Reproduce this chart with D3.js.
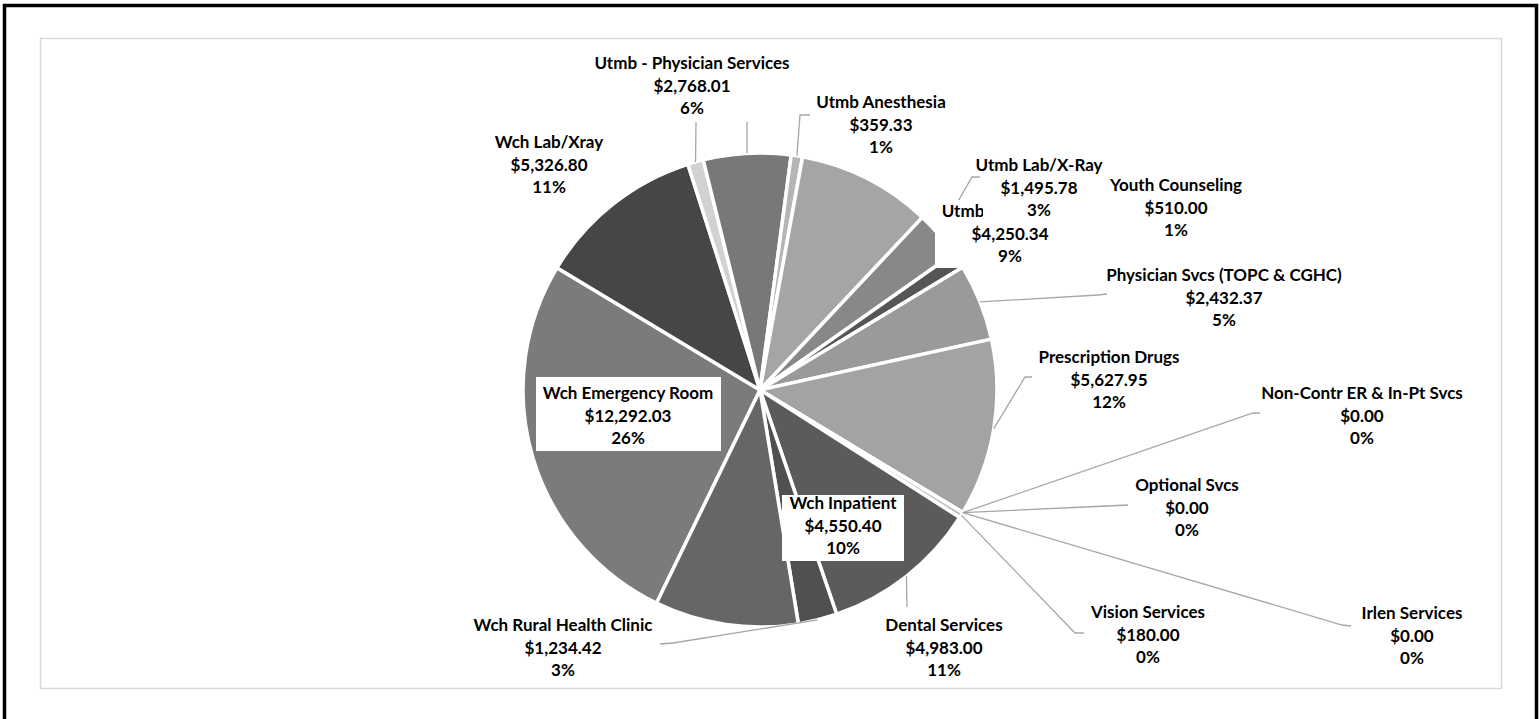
<!DOCTYPE html>
<html>
<head>
<meta charset="utf-8">
<script src="https://cdn.jsdelivr.net/npm/d3@7"></script>
<style>
body{margin:0;background:#fff;}
svg{display:block;}
.lbl{font-family:Lato,"Open Sans",sans-serif;font-weight:700;font-size:17px;fill:#000;}
</style>
</head>
<body>
<div class="chart"></div>
<script>
// slices in clockwise order, starting from Wch Emergency Room
const categories = ["Wch Emergency Room","Wch Lab/Xray","","Utmb - Physician Services","Utmb Anesthesia","Utmb",
  "Utmb Lab/X-Ray","Youth Counseling","Physician Svcs (TOPC & CGHC)","Prescription Drugs","Non-Contr ER & In-Pt Svcs",
  "Optional Svcs","Irlen Services","Vision Services","Dental Services","Wch Rural Health Clinic","Wch Inpatient"];
const values = [12292.03,5326.80,500,2768.01,359.33,4250.34,1495.78,510.00,2432.37,5627.95,0,0,0,180.00,4983.00,1234.42,4550.40];
const greys = ["#7b7b7b","#464646","#d2d2d2","#787878","#b5b5b5","#a5a5a5","#888888","#555555","#9a9a9a","#a3a3a3",
  "#bbbbbb","#bbbbbb","#bbbbbb","#bfbfbf","#5b5b5b","#505050","#666666"];

// where each label sits (centre x, first line y), white boxes and leader bends
const labelPos = [
  {x:628, y:393, box:[536,377,721,451]},
  {x:549, y:142},
  {hide:true, leader:[[696,122]]},
  {x:692, y:63, box:[588,50,796,121], leader:[[747,122]]},
  {x:881, y:102, leader:[[800,115],[810,115]]},
  {x:1010, y:211, nameX:963, box:[935,200,1085,268]},
  {x:1039, y:165, box:[983,153,1096,222], leader:[[972,177],[980,177]]},
  {x:1176, y:185},
  {x:1224, y:275, leader:[[1098,295],[1107,294]]},
  {x:1109, y:357, leader:[[1025,377],[1032,377]]},
  {x:1362, y:393, leader:[[1253,413],[1260,413]]},
  {x:1187, y:485, leader:[[1107,506],[1128,505]]},
  {x:1412, y:613, leader:[[1342,625],[1351,626]]},
  {x:1148, y:612, leader:[[1075,633],[1084,633]]},
  {x:944, y:625, leader:[[907,607]]},
  {x:563, y:625, leader:[[673,643],[660,644]]},
  {x:843, y:503, box:[782,495,904,561]}
];

const width = 1540, height = 719;
const cx = 760, cy = 390, r = 237;
const start = 205.9 * Math.PI / 180;

const svg = d3.select(".chart").append("svg")
    .attr("width", width)
    .attr("height", height);

// outer frame + plot area
svg.append("rect")
    .attr("x", 4.5).attr("y", 5.5)
    .attr("width", 1532).attr("height", 730)
    .attr("fill", "none").attr("stroke", "#000").attr("stroke-width", 3.5);
svg.append("rect")
    .attr("x", 40.5).attr("y", 38.5)
    .attr("width", 1461).attr("height", 650)
    .attr("fill", "none").attr("stroke", "#d9d9d9").attr("stroke-width", 1.5);

const total = d3.sum(values);
const color = d3.scaleOrdinal().domain(d3.range(values.length)).range(greys);

const pie = d3.pie()
    .sort(null)
    .value(d => d)
    .startAngle(start)
    .endAngle(start + 2 * Math.PI);

const arcs = pie(values);
const arc = d3.arc().innerRadius(0).outerRadius(r);
const edge = d3.arc().innerRadius(r).outerRadius(r);

const g = svg.append("g").attr("transform", "translate(" + cx + "," + cy + ")");

g.selectAll("path.slice")
    .data(arcs)
    .enter()
    .append("path")
        .attr("class", "slice")
        .attr("d", arc)
        .attr("fill", (d, i) => color(i))
        .attr("stroke", "#fff")
        .attr("stroke-width", 3.5)
        .attr("stroke-linejoin", "round");

// leader lines
const line = d3.line();
arcs.forEach(function(d, i) {
    const lp = labelPos[i];
    if (!lp.leader) return;
    const p0 = edge.centroid(d);
    const pts = [[p0[0] + cx, p0[1] + cy]].concat(lp.leader);
    svg.append("path")
        .attr("d", line(pts))
        .attr("fill", "none")
        .attr("stroke", "#a6a6a6")
        .attr("stroke-width", 1.3);
});

// labels
const money = d3.format(",.2f");
const pct = d3.format(".0%");
const lh = 22.5;

arcs.forEach(function(d, i) {
    const lp = labelPos[i];
    if (lp.hide) return;
    if (lp.box) {
        svg.append("rect")
            .attr("x", lp.box[0]).attr("y", lp.box[1])
            .attr("width", lp.box[2] - lp.box[0])
            .attr("height", lp.box[3] - lp.box[1])
            .attr("fill", "#fff");
    }
    const lines = [categories[i], "$" + money(values[i]), pct(values[i] / total)];
    lines.forEach(function(t, k) {
        svg.append("text")
            .attr("class", "lbl")
            .attr("x", (k === 0 && lp.nameX) ? lp.nameX : lp.x)
            .attr("y", lp.y + k * lh)
            .attr("dy", "0.36em")
            .attr("text-anchor", "middle")
            .text(t);
    });
});
</script>
</body>
</html>
